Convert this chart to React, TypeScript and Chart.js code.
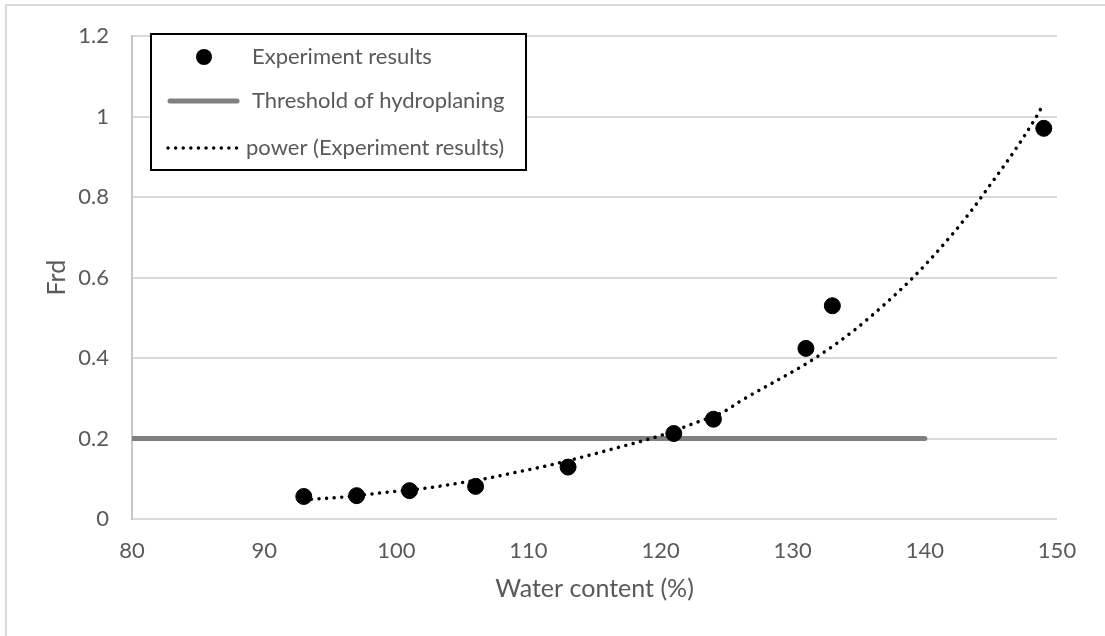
import React, { useEffect, useRef } from "react";
import { Chart, registerables } from "chart.js";

Chart.register(...registerables);

// Experiment results
const waterContent = [93, 97, 101, 106, 113, 121, 124, 131, 133, 149];
const frdValues = [0.056, 0.058, 0.0705, 0.081, 0.129, 0.2125, 0.248, 0.424, 0.53, 0.971];

// Threshold of hydroplaning
const thresholdX = [80, 140];
const thresholdY = [0.2, 0.2];

// power trendline
const trendX = [93, 95.8, 97.8, 99.4, 101.9, 104.4, 106.7, 109.2, 111.5, 113.6, 116.7, 120, 122.5, 124.8, 126, 131.7, 134.6, 136.9, 139.1, 141.3, 143.3, 145, 146.8, 148.4, 149];
const trendY = [0.048, 0.054, 0.061, 0.067, 0.075, 0.0875, 0.1, 0.117, 0.133, 0.15, 0.177, 0.2075, 0.2375, 0.267, 0.292, 0.4, 0.468, 0.532, 0.6, 0.678, 0.757, 0.833, 0.916, 0.998, 1.033];

const legendLabels = ["Experiment results", "Threshold of hydroplaning", "power (Experiment results)"];
const xTitle = "Water content (%)";
const yTitle = "Frd";

const FONT = "Lato, 'Open Sans', sans-serif";
const TEXT = "#595959";

const frame = {
  id: "frame",
  beforeDraw(chart: any) {
    const ctx = chart.ctx;
    ctx.save();
    ctx.fillStyle = "#ffffff";
    ctx.fillRect(0, 0, chart.width, chart.height);
    ctx.strokeStyle = "#d9d9d9";
    ctx.lineWidth = 2;
    ctx.strokeRect(6, 5, chart.width + 10, chart.height + 10);
    ctx.restore();
  },
};

const boxLegend = {
  id: "boxLegend",
  afterDraw(chart: any) {
    const ctx = chart.ctx;
    ctx.save();
    ctx.fillStyle = "#ffffff";
    ctx.fillRect(151, 34, 375, 136);
    ctx.strokeStyle = "#000000";
    ctx.lineWidth = 2;
    ctx.strokeRect(151, 34, 375, 136);

    // marker
    ctx.fillStyle = "#000000";
    ctx.beginPath();
    ctx.arc(204, 57, 8, 0, Math.PI * 2);
    ctx.fill();

    // solid line
    ctx.strokeStyle = "#808080";
    ctx.lineWidth = 5;
    ctx.lineCap = "round";
    ctx.beginPath();
    ctx.moveTo(170, 101);
    ctx.lineTo(237, 101);
    ctx.stroke();

    // dotted line
    ctx.strokeStyle = "#000000";
    ctx.lineWidth = 3.5;
    ctx.setLineDash([0.01, 7.6]);
    ctx.beginPath();
    ctx.moveTo(168, 148);
    ctx.lineTo(238, 148);
    ctx.stroke();
    ctx.setLineDash([]);

    ctx.fillStyle = TEXT;
    ctx.font = `22px ${FONT}`;
    ctx.textBaseline = "middle";
    ctx.textAlign = "left";
    ctx.fillText(legendLabels[0], 252, 57);
    ctx.fillText(legendLabels[1], 252, 101);
    ctx.fillText(legendLabels[2], 246, 148);
    ctx.restore();
  },
};

export default function App() {
  const ref = useRef<HTMLCanvasElement>(null);
  useEffect(() => {
    if (!ref.current) return;
    const chart = new Chart(ref.current, {
      type: "scatter",
      data: {
        datasets: [
          {
            label: legendLabels[0],
            data: waterContent.map((x, i) => ({ x, y: frdValues[i] })),
            backgroundColor: "#000000",
            borderColor: "#000000",
            pointRadius: 8,
            pointHoverRadius: 8,
            showLine: false,
          },
          {
            label: legendLabels[2],
            data: trendX.map((x, i) => ({ x, y: trendY[i] })),
            showLine: true,
            borderColor: "#000000",
            borderWidth: 3.5,
            borderDash: [0.01, 7.6],
            borderCapStyle: "round",
            pointRadius: 0,
            cubicInterpolationMode: "monotone",
            fill: false,
          },
          {
            label: legendLabels[1],
            data: thresholdX.map((x, i) => ({ x, y: thresholdY[i] })),
            showLine: true,
            borderColor: "#808080",
            borderWidth: 5,
            borderCapStyle: "round",
            pointRadius: 0,
            fill: false,
          },
        ],
      },
      options: {
        responsive: false,
        animation: false,
        layout: { padding: { left: 0, top: 34, right: 48, bottom: 0 } },
        plugins: { legend: { display: false }, tooltip: { enabled: false }, title: { display: false } },
        scales: {
          x: {
            type: "linear",
            min: 80,
            max: 150,
            ticks: { stepSize: 10, color: TEXT, font: { family: FONT, size: 22 }, padding: 19 },
            grid: { display: false, drawTicks: false },
            border: { display: false },
            title: { display: true, text: xTitle, color: TEXT, font: { family: FONT, size: 25 }, padding: { top: 0, bottom: 32 } },
            afterFit: (s: any) => { s.height = 117; },
          },
          y: {
            type: "linear",
            min: 0,
            max: 1.2,
            ticks: { stepSize: 0.2, color: TEXT, font: { family: FONT, size: 22 }, padding: 23, callback: (v: any) => String(Math.round(Number(v) * 10) / 10) },
            grid: { color: "#d9d9d9", lineWidth: 2, drawTicks: false },
            border: { display: true, color: "#c6c6c6", width: 2 },
            title: { display: true, text: yTitle, color: TEXT, font: { family: FONT, size: 25 }, padding: { top: 42, bottom: 0 } },
            afterFit: (s: any) => { s.width = 132; },
          },
        },
      },
      plugins: [frame, boxLegend],
    });
    return () => chart.destroy();
  }, []);
  return (
    <div style={{ position: "fixed", left: 0, top: 0, width: 1105, height: 636 }}>
      <canvas ref={ref} width={1105} height={636} style={{ width: 1105, height: 636 }} />
    </div>
  );
}
